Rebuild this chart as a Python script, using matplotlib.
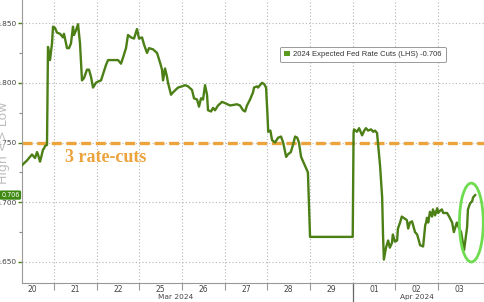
import matplotlib
matplotlib.use("Agg")
import matplotlib.pyplot as plt
from matplotlib.patches import Ellipse, Patch
from matplotlib.ticker import FixedLocator, MultipleLocator
import matplotlib.transforms as mtransforms

# ---- data: x = trading-session position (day 20 Mar = 0), y = expected cuts ----
t = [0.250, 0.367, 0.484, 0.555, 0.602, 0.625, 0.672, 0.695, 0.742, 0.766, 0.789, 0.836,
     0.859, 0.906, 0.953, 0.977, 1.023, 1.070, 1.141, 1.211, 1.234, 1.305, 1.352, 1.398,
     1.445, 1.469, 1.516, 1.563, 1.609, 1.656, 1.703, 1.773, 1.820, 1.867, 1.914, 1.984,
     2.031, 2.102, 2.148, 2.219, 2.266, 2.383, 2.500, 2.570, 2.617, 2.687, 2.734, 2.805,
     2.875, 2.945, 2.992, 3.063, 3.109, 3.180, 3.227, 3.320, 3.414, 3.484, 3.531, 3.555,
     3.602, 3.648, 3.672, 3.742, 3.789, 3.906, 4.000, 4.070, 4.141, 4.234, 4.281, 4.352,
     4.398, 4.445, 4.492, 4.539, 4.586, 4.609, 4.680, 4.727, 4.773, 4.844, 4.937, 5.008,
     5.125, 5.289, 5.359, 5.430, 5.477, 5.523, 5.594, 5.664, 5.687, 5.758, 5.781, 5.875,
     5.922, 5.969, 6.00, 6.02, 6.07, 6.11, 6.18, 6.25, 6.32, 6.37, 6.44, 6.48, 6.55, 6.60,
     6.65, 6.70, 6.74, 6.79, 6.84, 6.88, 6.93, 6.95, 7.00, 8.00, 8.02, 8.03, 8.10, 8.15,
     8.22, 8.27, 8.31, 8.36, 8.43, 8.48, 8.52, 8.57, 8.59, 8.64, 8.69, 8.71, 8.73, 8.78,
     8.83, 8.87, 8.92, 8.94, 8.99, 9.04, 9.06, 9.11, 9.15, 9.23, 9.27, 9.30, 9.34, 9.39,
     9.46, 9.51, 9.58, 9.65, 9.70, 9.72, 9.74, 9.77, 9.81, 9.86, 9.88, 9.93, 9.98, 10.00,
     10.05, 10.09, 10.12, 10.21, 10.26, 10.33, 10.37, 10.44, 10.47, 10.54, 10.59, 10.61,
     10.68, 10.70, 10.75, 10.80, 10.82, 10.87]
cuts = [0.731, 0.735, 0.740, 0.737, 0.742, 0.740, 0.734, 0.737, 0.744, 0.745, 0.747, 0.748,
        0.830, 0.819, 0.833, 0.847, 0.846, 0.842, 0.841, 0.838, 0.841, 0.829, 0.829, 0.833,
        0.847, 0.840, 0.844, 0.849, 0.833, 0.802, 0.804, 0.811, 0.811, 0.805, 0.796, 0.800,
        0.801, 0.802, 0.807, 0.815, 0.819, 0.819, 0.819, 0.816, 0.821, 0.829, 0.840, 0.838,
        0.837, 0.845, 0.837, 0.838, 0.832, 0.825, 0.829, 0.828, 0.825, 0.817, 0.811, 0.802,
        0.812, 0.805, 0.800, 0.790, 0.792, 0.796, 0.797, 0.798, 0.797, 0.794, 0.787, 0.786,
        0.780, 0.787, 0.786, 0.798, 0.790, 0.777, 0.776, 0.779, 0.777, 0.781, 0.784, 0.783,
        0.781, 0.782, 0.781, 0.777, 0.776, 0.781, 0.786, 0.792, 0.796, 0.797, 0.796, 0.800,
        0.799, 0.796, 0.775, 0.759, 0.760, 0.752, 0.750, 0.754, 0.755, 0.750, 0.738, 0.740,
        0.742, 0.748, 0.755, 0.754, 0.750, 0.738, 0.734, 0.731, 0.727, 0.725, 0.671, 0.671,
        0.758, 0.761, 0.759, 0.762, 0.756, 0.760, 0.762, 0.760, 0.761, 0.759, 0.760, 0.758,
        0.750, 0.731, 0.704, 0.673, 0.652, 0.662, 0.668, 0.662, 0.666, 0.673, 0.667, 0.668,
        0.678, 0.683, 0.688, 0.686, 0.685, 0.678, 0.683, 0.684, 0.675, 0.673, 0.664, 0.663,
        0.681, 0.683, 0.687, 0.683, 0.692, 0.688, 0.694, 0.689, 0.695, 0.691, 0.693, 0.694,
        0.691, 0.691, 0.688, 0.683, 0.675, 0.683, 0.680, 0.675, 0.664, 0.660, 0.679, 0.694,
        0.699, 0.701, 0.704, 0.706]
day_labels = ['20', '21', '22', '25', '26', '27', '28', '29', '01', '02', '03']
month_labels = ['Mar 2024', 'Apr 2024']
yticks = [0.650, 0.700, 0.750, 0.800, 0.850]
three_cuts = 0.750
last_value = 0.706
series_name = '2024 Expected Fed Rate Cuts (LHS)'

LINE = '#4c7f16'
ORANGE = '#eca33c'
GRID = '#b5b5b5'

fig = plt.figure(figsize=(4.85, 3.02), dpi=100)
ax = fig.add_axes([22/485, 19/302, 463/485, 283/302])

ax.set_xlim(0.25, 11.10)
ax.set_ylim(0.6324, 0.8693)

# grid
ax.xaxis.set_major_locator(FixedLocator(list(range(1, 11))))
ax.xaxis.set_minor_locator(FixedLocator([i + 0.5 for i in range(len(day_labels))]))
ax.set_xticklabels([], minor=False)
ax.set_xticklabels(day_labels, minor=True)
ax.yaxis.set_major_locator(FixedLocator(yticks))
ax.yaxis.set_minor_locator(MultipleLocator(0.025))
ax.set_yticklabels([f'{v:.3f}' for v in yticks])
ax.grid(True, which='major', color=GRID, linestyle=(0, (1, 2)), linewidth=0.8)
ax.set_axisbelow(True)

ax.tick_params(axis='x', which='major', length=5, color='#999999', width=0.8)
ax.tick_params(axis='x', which='minor', length=0, labelsize=5.5, labelcolor='#444444', pad=1.5)
ax.tick_params(axis='y', which='major', length=3, color=LINE, width=1.0,
               labelsize=5.3, labelcolor='#444444', pad=1)
ax.tick_params(axis='y', which='minor', length=2, color='#888888', width=0.8)

for s in ['top', 'right']:
    ax.spines[s].set_visible(False)
ax.spines['left'].set_color('#999999')
ax.spines['bottom'].set_color('#999999')

# orange 3-cut line
ax.axhline(three_cuts, color=ORANGE, linewidth=2.4, linestyle=(0, (3, 1.4)), zorder=2)
ax.text(1.25, three_cuts - 0.0055, '3 rate-cuts', color=ORANGE, fontsize=13,
        fontweight='bold', family='Liberation Serif', va='top', ha='left', zorder=3)

# series
ax.plot(t, cuts, color=LINE, linewidth=1.7, zorder=4, solid_joinstyle='round')

# highlight ellipse
ax.add_patch(Ellipse((10.78, 0.683), 0.56, 0.066, fill=False, edgecolor='#6fdc4f',
                     linewidth=2.0, zorder=5))

# month separator & labels
trans = mtransforms.blended_transform_factory(ax.transData, ax.transAxes)
ax.plot([8.0, 8.0], [0, -0.07], color='#666666', linewidth=0.9, transform=trans, clip_on=False)
ax.text(3.85, -0.038, month_labels[0], transform=trans, ha='center', va='top',
        fontsize=5.3, color='#444444')
ax.text(9.5, -0.038, month_labels[1], transform=trans, ha='center', va='top',
        fontsize=5.3, color='#444444')

# last value tag
tag_trans = mtransforms.blended_transform_factory(fig.transFigure, ax.transData)
fig.text(19.5/485, last_value, f'{last_value:.3f}', transform=tag_trans, ha='right', va='center',
         fontsize=4.7, color='white',
         bbox=dict(boxstyle='round,pad=0.25', fc='#3f8a12', ec='none'))

# High <> Low label
fig.text(4/485, 1 - 143/302, 'High <> Low', rotation=90, ha='center', va='center',
         fontsize=9, color='#bdbdbd')

# legend
leg = ax.legend(handles=[Patch(facecolor='#5a9a1e', edgecolor='none')],
                labels=[f'{series_name} -{last_value:.3f}'],
                loc='upper left', bbox_to_anchor=(0.550, 0.848),
                frameon=True, fancybox=True, handlelength=0.8,
                handleheight=0.8, handletextpad=0.4, borderpad=0.5, framealpha=1,
                edgecolor='#999999', prop={'family': 'Liberation Sans', 'size': 5.5})
for txt in leg.get_texts():
    txt.set_color('#333333')
leg.get_frame().set_linewidth(0.7)

fig.savefig('out.png', dpi=100)
